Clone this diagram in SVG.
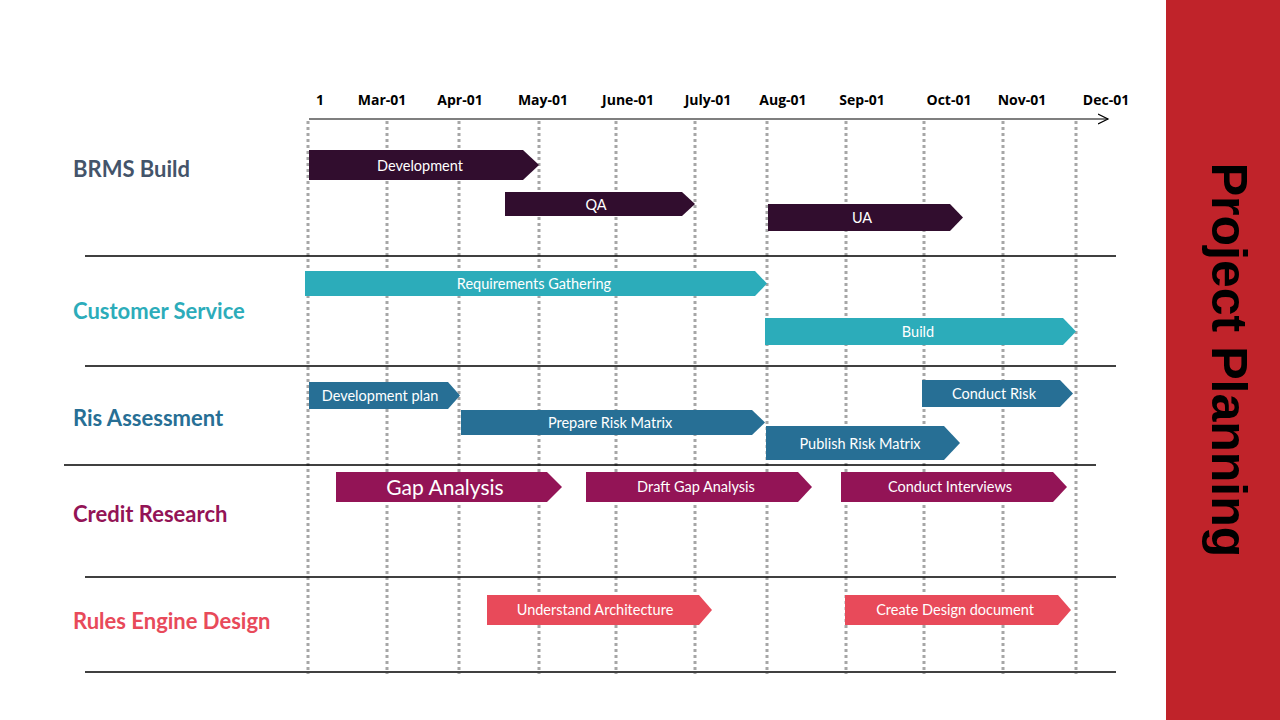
<svg xmlns="http://www.w3.org/2000/svg" width="1280" height="720" viewBox="0 0 1280 720">
<defs>
<style>
.grid{stroke:#A6A6A6;stroke-width:3;stroke-dasharray:3 3;fill:none}
.sep{stroke:#000;stroke-width:1.5;fill:none}
.mon{font-family:"Open Sans",sans-serif;font-weight:bold;font-size:14px;fill:#000;text-anchor:middle}
.row{font-family:Lato,"Open Sans",sans-serif;font-weight:bold;font-size:22px}
.bt{font-family:Lato,"Open Sans",sans-serif;font-size:14.5px;fill:#fff;text-anchor:middle;dominant-baseline:central}
.c1{fill:#310D2E}.c2{fill:#2CACBA}.c3{fill:#276F95}.c4{fill:#931456}.c5{fill:#E84A5A}
</style>
<marker id="arr" markerWidth="12" markerHeight="12" refX="10" refY="6" orient="auto" markerUnits="userSpaceOnUse">
<path d="M0,1 L10,6 L0,11" fill="none" stroke="#000" stroke-width="1.2"/>
</marker>
</defs>
<rect width="1280" height="720" fill="#fff"/>
<g id="panel">
<rect x="1166" y="0" width="114" height="720" fill="#C0232A"/>
<text transform="translate(1212,360) rotate(90)" font-family="Liberation Sans,Arial,sans-serif" font-weight="bold" font-size="50" text-anchor="middle" fill="#000">Project Planning</text>
</g>
<g id="grid">
<line class="grid" x1="308" y1="121" x2="308" y2="674"/>
<line class="grid" x1="387" y1="121" x2="387" y2="674"/>
<line class="grid" x1="459" y1="121" x2="459" y2="674"/>
<line class="grid" x1="539" y1="121" x2="539" y2="674"/>
<line class="grid" x1="616" y1="121" x2="616" y2="674"/>
<line class="grid" x1="695" y1="121" x2="695" y2="674"/>
<line class="grid" x1="767" y1="121" x2="767" y2="674"/>
<line class="grid" x1="846" y1="121" x2="846" y2="674"/>
<line class="grid" x1="924" y1="121" x2="924" y2="674"/>
<line class="grid" x1="1003" y1="121" x2="1003" y2="674"/>
<line class="grid" x1="1076" y1="121" x2="1076" y2="674"/>
</g>
<g id="axis">
<line x1="309" y1="119" x2="1108" y2="119" stroke="#000" stroke-width="1.2" marker-end="url(#arr)"/>
<text class="mon" x="320" y="105">1</text>
<text class="mon" x="382" y="105">Mar-01</text>
<text class="mon" x="460" y="105">Apr-01</text>
<text class="mon" x="543" y="105">May-01</text>
<text class="mon" x="628" y="105">June-01</text>
<text class="mon" x="708" y="105">July-01</text>
<text class="mon" x="783" y="105">Aug-01</text>
<text class="mon" x="862" y="105">Sep-01</text>
<text class="mon" x="949" y="105">Oct-01</text>
<text class="mon" x="1022" y="105">Nov-01</text>
<text class="mon" x="1106" y="105">Dec-01</text>
</g>
<g id="separators">
<line class="sep" x1="85" y1="256" x2="1116" y2="256"/>
<line class="sep" x1="85" y1="366" x2="1116" y2="366"/>
<line class="sep" x1="64" y1="465" x2="1096" y2="465"/>
<line class="sep" x1="85" y1="577" x2="1116" y2="577"/>
<line class="sep" x1="85" y1="672" x2="1116" y2="672"/>
</g>
<g id="labels">
<text class="row" x="73" y="177" fill="#44546A">BRMS Build</text>
<text class="row" x="73" y="319" fill="#2CACBA">Customer Service</text>
<text class="row" x="73" y="426" fill="#276F95">Ris Assessment</text>
<text class="row" x="73" y="522" fill="#931456">Credit Research</text>
<text class="row" x="73" y="629" fill="#E84A5A">Rules Engine Design</text>
</g>
<g id="bar-development"><polygon class="c1" points="309,150 523,150 539,165 523,180 309,180"/><text class="bt" x="420" y="165">Development</text></g>
<g id="bar-qa"><polygon class="c1" points="505,192 682,192 695,204 682,216 505,216"/><text class="bt" x="596" y="204">QA</text></g>
<g id="bar-ua"><polygon class="c1" points="768,204 950,204 963,217.5 950,231 768,231"/><text class="bt" x="862" y="217">UA</text></g>
<g id="bar-requirements"><polygon class="c2" points="305,271 755,271 767,283.5 755,296 305,296"/><text class="bt" x="534" y="283">Requirements Gathering</text></g>
<g id="bar-build"><polygon class="c2" points="765,318 1063,318 1076,331.5 1063,345 765,345"/><text class="bt" x="918" y="331">Build</text></g>
<g id="bar-devplan"><polygon class="c3" points="309,382 448,382 460,395.5 448,409 309,409"/><text class="bt" x="380" y="395">Development plan</text></g>
<g id="bar-prepare"><polygon class="c3" points="461,410 752,410 765,422.5 752,435 461,435"/><text class="bt" x="610" y="422">Prepare Risk Matrix</text></g>
<g id="bar-conductrisk"><polygon class="c3" points="922,380 1060,380 1073,393.5 1060,407 922,407"/><text class="bt" x="994" y="393">Conduct Risk</text></g>
<g id="bar-publish"><polygon class="c3" points="766,426 944,426 960,443 944,460 766,460"/><text class="bt" x="860" y="443">Publish Risk Matrix</text></g>
<g id="bar-gap"><polygon class="c4" points="336,472 547,472 562,487 547,502 336,502"/><text class="bt" x="445" y="486" style="font-size:21px">Gap Analysis</text></g>
<g id="bar-draftgap"><polygon class="c4" points="586,472 798,472 812,487 798,502 586,502"/><text class="bt" x="696" y="486">Draft Gap Analysis</text></g>
<g id="bar-interviews"><polygon class="c4" points="841,472 1053,472 1067,487 1053,502 841,502"/><text class="bt" x="950" y="486">Conduct Interviews</text></g>
<g id="bar-architecture"><polygon class="c5" points="487,595 699,595 712,610 699,625 487,625"/><text class="bt" x="595" y="609">Understand Architecture</text></g>
<g id="bar-design"><polygon class="c5" points="845,595 1058,595 1071,610 1058,625 845,625"/><text class="bt" x="955" y="609">Create Design document</text></g>
</svg>
